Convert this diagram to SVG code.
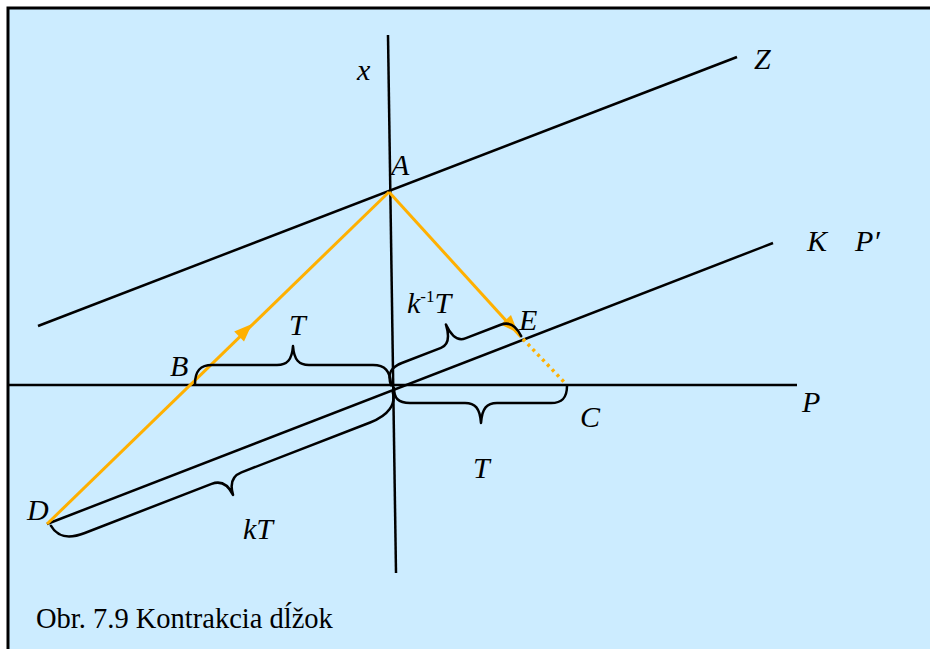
<svg xmlns="http://www.w3.org/2000/svg" width="930" height="649" viewBox="0 0 930 649">
<defs>
<style>
.ln{stroke:#000;stroke-width:2.5;fill:none}
.br{stroke:#000;stroke-width:2.5;fill:none;stroke-linejoin:round;stroke-linecap:round}
.or{stroke:#FFB000;stroke-width:3;fill:none}
.dot{stroke:#FFB000;stroke-width:3.5;fill:none;stroke-dasharray:3 4}
.ah{fill:#FFB000}
.lb{font-family:"Liberation Serif","Times New Roman",serif;font-style:italic;font-size:30px;fill:#000}
.sup{font-style:normal;font-size:17px}
.cap{font-family:"Liberation Serif","Times New Roman",serif;font-size:28.5px;fill:#000}
</style>
</defs>
<rect x="0" y="0" width="930" height="649" fill="#fff"/>
<rect id="frame" x="8" y="8" width="940" height="660" fill="#CCECFF" stroke="#000" stroke-width="3"/>

<g id="connectors">
  <line id="axis-x" class="ln" x1="388" y1="35" x2="396" y2="573"/>
  <line id="axis-P" class="ln" x1="8" y1="385" x2="797" y2="385"/>
  <line id="line-Z" class="ln" x1="38" y1="326" x2="737" y2="57"/>
  <line id="line-K" class="ln" x1="47" y1="524" x2="773" y2="243"/>
  <line id="ray-DA" class="or" x1="47" y1="524" x2="389" y2="192"/>
  <line id="ray-AE" class="or" x1="389" y1="192" x2="521" y2="337"/>
  <line id="ray-EC" class="dot" x1="523" y1="339" x2="566" y2="384"/>
  <polygon class="ah" points="252,324 234.2,331.5 244,341.5"/>
  <polygon class="ah" points="518,333 511,315 500.7,324.4"/>
</g>

<g id="braces">
  <path id="brace-T-upper" class="br" d="M195,384 C195,371 200,365 212,365 L277,365 C287,365 292,360 293,346 C294,360 299,365 309,365 L373,365 C385,365 390,371 391,384"/>
  <path id="brace-T-lower" class="br" d="M394,388 C394,398 398,403 410,403 L465,403 C475,403 480,408 481,423 C482,408 487,403 497,403 L551,403 C562,403 567,398 567,386"/>
  <path id="brace-kinvT" class="br" transform="translate(393,390) rotate(-21.16)" d="M0,-5 C0,-16 5,-22 18,-22 L60,-22 C68,-22 72,-28 73,-42 C74,-28 78,-22 86,-22 L124,-22 C133,-22 138,-16 139,-4"/>
  <path id="brace-kT" class="br" transform="translate(47,524) rotate(-21.16)" d="M3,3 C5,16 14,22 32,22 L168,22 C178,22 183,28 184,40 C185,28 190,22 200,22 L338,22 C358,22 369,14 370,2"/>
</g>

<g id="node-x"><text class="lb" x="357" y="80">x</text></g>
<g id="node-Z"><text class="lb" x="754" y="69">Z</text></g>
<g id="node-A"><text class="lb" x="391" y="175">A</text></g>
<g id="node-K"><text class="lb" x="807" y="251">K</text></g>
<g id="node-Pprime"><text class="lb" x="855" y="251">P′</text></g>
<g id="node-P"><text class="lb" x="802" y="412">P</text></g>
<g id="node-B"><text class="lb" x="170" y="376">B</text></g>
<g id="node-E"><text class="lb" x="519" y="330">E</text></g>
<g id="node-C"><text class="lb" x="580" y="427">C</text></g>
<g id="node-D"><text class="lb" x="27" y="520">D</text></g>
<g id="label-T-upper"><text class="lb" x="289" y="335">T</text></g>
<g id="label-kinvT"><text class="lb" x="407" y="313">k<tspan class="sup" dy="-11">-1</tspan><tspan dy="11">T</tspan></text></g>
<g id="label-T-lower"><text class="lb" x="473" y="478">T</text></g>
<g id="label-kT"><text class="lb" x="243" y="539">kT</text></g>
<g id="caption"><text class="cap" x="36" y="628">Obr. 7.9 Kontrakcia dĺžok</text></g>
</svg>
